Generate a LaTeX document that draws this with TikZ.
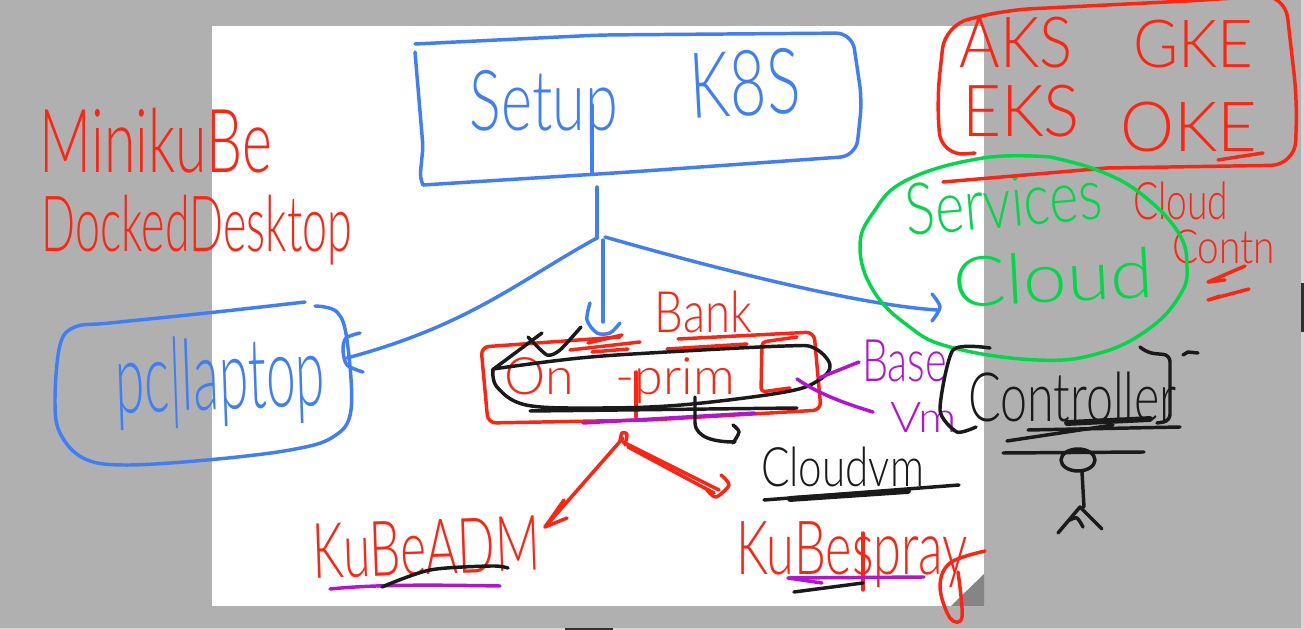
\documentclass[tikz,border=0pt]{standalone}
\usepackage{fontspec}
\usepackage{graphicx}
\setmainfont{Lato Light}
\definecolor{bgray}{HTML}{B0B0B0}
\definecolor{fold}{HTML}{858585}
\definecolor{edgeg}{HTML}{D6D6D6}
\definecolor{inkblue}{HTML}{3F7EF6}
\definecolor{inkred}{HTML}{FF2312}
\definecolor{inkgreen}{HTML}{00D84A}
\definecolor{inkpurple}{HTML}{B414D2}
\definecolor{inkblack}{HTML}{1A1A1A}
\tikzset{
  hand/.style={inner sep=0pt,outer sep=0pt},
  stroke/.style={line width=2.6pt,line cap=round,line join=round},
  blue ink/.style={stroke,draw=inkblue},
  red ink/.style={stroke,draw=inkred},
  green ink/.style={stroke,draw=inkgreen},
  purple ink/.style={stroke,draw=inkpurple},
  black ink/.style={stroke,draw=inkblack},
  fat/.style={line width=4.4pt},
}
% name, colour, x1, y1, x2, y2, rotation, text
\newcommand\hw[8]{%
  \pgfmathsetmacro\hwx{(#3+#5)/2}%
  \pgfmathsetmacro\hwy{(#4+#6)/2}%
  \pgfmathsetmacro\hww{(#5-#3)*0.75}%
  \pgfmathsetmacro\hwh{(#6-#4)*0.75}%
  \node[hand,text=#2,rotate=#7] (#1) at (\hwx,\hwy) {\resizebox*{\hww pt}{\hwh pt}{#8}};%
}
\begin{document}
\begin{tikzpicture}[x=0.75pt,y=-0.75pt]
\useasboundingbox (0,0) rectangle (1304,630);
\clip (0,0) rectangle (1304,630);
% page
\fill[bgray] (0,0) rectangle (1304,630);
\fill[edgeg] (0,628) rectangle (1304,630);
\fill[edgeg] (1301,0) rectangle (1304,630);
\fill[inkblack!90] (565,628) rectangle (613,630);
\fill[inkblack!90] (1301,283) rectangle (1304,332);
\fill[white] (212,26) rectangle (984,606);
\fill[fold] (984,574) -- (984,606) -- (951,606) -- cycle;

% texts
\hw{minikube}{inkred}{40}{108}{272}{173}{0}{MinikuBe}
\hw{docker}{inkred}{42}{195}{352}{265}{0}{DockedDesktop}
\hw{setup}{inkblue}{470}{70}{618}{145}{0}{Setup}
\hw{keights}{inkblue}{690}{50}{800}{116}{3}{K8S}
\hw{pclaptop}{inkblue}{115}{335}{325}{427}{2}{pc|laptop}
\hw{bank}{inkred}{655}{291}{752}{333}{0}{Bank}
\hw{onprim}{inkred}{505}{358}{735}{404}{0}{On\hspace{0.8em}-prim}
\hw{basenode}{inkpurple}{862}{340}{947}{382}{0}{Base}
\hw{vmnode}{inkpurple}{890}{403}{957}{433}{0}{Vm}
\hw{cloudvm}{inkblack}{761}{447}{924}{487}{0}{Cloudvm}
\hw{controller}{inkblack}{968}{372}{1177}{422}{0}{Controller}
\hw{kubeadm}{inkred}{313}{520}{540}{575}{2}{KuBeADM}
\hw{kubespray}{inkred}{736}{522}{968}{588}{0}{KuBespray}
\hw{aks}{inkred}{960}{17}{1073}{68}{0}{AKS}
\hw{gke}{inkred}{1133}{20}{1253}{68}{0}{GKE}
\hw{eks}{inkred}{962}{85}{1080}{137}{0}{EKS}
\hw{oke}{inkred}{1120}{102}{1257}{152}{0}{OKE}
\hw{services}{inkgreen}{905}{176}{1102}{228}{5}{Services}
\hw{cloud}{inkgreen}{953}{252}{1153}{303}{3}{Cloud}
\hw{cloudred}{inkred}{1133}{182}{1228}{220}{0}{Cloud}
\hw{contn}{inkred}{1172}{230}{1275}{264}{0}{Contn}

% Setup box
\draw[blue ink,rounded corners=12pt] (415,44) -- (600,35) -- (852,33) -- (862,100) -- (856,156) -- (630,172) -- (423,185);
\draw[blue ink,rounded corners=4pt] (423,185) -- (420,177) -- (423,147) -- (415,52);
% connector stems
\coordinate (setupfoot) at (592,173);
\coordinate (hub) at (597,238);
\coordinate (pcend) at (347,358);
\coordinate (bankend) at (603,322);
\coordinate (cloudend) at (937,310);
\draw[blue ink] (592,105) -- (setupfoot);
\draw[blue ink] (597,187) -- (hub);
\draw[blue ink] (hub) .. controls (520,280) and (470,325) .. (pcend);
\draw[blue ink] (603,240) -- (bankend);
\draw[blue ink] (605,237) .. controls (720,270) and (860,305) .. (cloudend);
% hooks
\draw[blue ink] plot[smooth] coordinates {(590,303) (587,320) (597,333) (610,333) (620,323)};
\draw[blue ink] plot[smooth] coordinates {(932,294) (940,307) (932,321)};
\draw[blue ink] plot[smooth] coordinates {(360,333) (346,338) (343,350) (347,365) (363,372)};
% pc box
\draw[blue ink] plot[smooth,tension=0.6] coordinates {(305,302) (207,313) (110,323) (75,327) (60,345) (55,400) (60,433) (83,458) (123,465) (207,460) (290,450) (333,437) (351,410) (347,340) (337,312) (315,306)};

% red on-prem box
\draw[red ink,rounded corners=6pt] (620,337) -- (481,347) -- (488,423) -- (650,420) -- (821,410) -- (814,332) -- (678,339);
\draw[red ink] (667,349) -- (747,344);
\draw[red ink] (570,350) -- (640,342);
\draw[red ink] (588,343) -- (622,335);
\draw[red ink] (592,352) -- (628,349);
\draw[red ink,rounded corners=3pt] (797,337) -- (762,342) -- (761,392) -- (790,388);
\draw[red ink] (636,372) -- (636,417);
% black loop
\draw[black ink] plot[smooth,tension=0.6] coordinates {(493,369) (580,358) (667,352) (785,346) (814,348) (830,365) (819,380) (785,392) (681,405) (595,408) (526,405) (497,387) (493,369)};
\draw[black ink] (542,333) -- (495,368);
\draw[black ink] plot[smooth,tension=0.4] coordinates {(528,337) (547,355) (560,350) (581,327)};
\draw[black ink] (530,411) -- (797,408);
\draw[purple ink] (583,423) -- (755,413);
% Cloud vm arrow
\coordinate (vmstart) at (695,397);
\coordinate (vmend) at (735,442);
\draw[black ink] (vmstart) -- (695,423) .. controls (696,438) and (715,442) .. (vmend);
\draw[black ink] plot[smooth] coordinates {(733,425) (739,432) (733,443)};
\draw[black ink] (764,500) -- (959,485);
\draw[black ink,fat] (790,499) -- (908,491);
% purple links
\coordinate (baseend) at (859,362);
\coordinate (vmlink) at (873,412);
\draw[purple ink] (baseend) -- (819,378);
\draw[purple ink] (797,379) .. controls (820,395) and (850,405) .. (vmlink);
% red arrows
\coordinate (splitr) at (623,438);
\coordinate (admend) at (545,527);
\coordinate (sprayend) at (719,490);
\draw[red ink] plot[smooth] coordinates {(620,441) (622,433) (627,434) (625,445)};
\draw[red ink] (splitr) -- (admend);
\draw[red ink] (564,500) -- (545,527) -- (567,518);
\draw[red ink] (623,442) -- (sprayend);
\draw[red ink] (628,447) -- (714,493);
\draw[red ink] plot[smooth] coordinates {(721,475) (729,485) (716,497) (707,490)};
% kube underlines
\draw[purple ink] (330,589) .. controls (380,584) and (440,585) .. (500,586);
\draw[black ink] plot[smooth] coordinates {(382,587) (430,570) (491,566) (508,568)};
\draw[red ink] (863,533) -- (863,590);
\draw[purple ink] (788,578) -- (924,577);
\draw[purple ink] (788,578) -- (822,583);
\draw[black ink] (794,592) -- (863,583);
% y tail
\draw[red ink] plot[smooth,tension=0.6] coordinates {(958,572) (962,617) (950,618) (940,587) (950,563) (985,551)};

% AKS box
\draw[red ink,rounded corners=18pt] (975,153) -- (941,156) -- (937,100) -- (945,25) -- (1007,10) -- (1207,0) -- (1285,-6) -- (1297,100) -- (1295,165) -- (1107,168);
\draw[red ink] (1107,168) -- (943,182);
\draw[red ink] (1218,160) -- (1263,153);
% green
\draw[green ink] plot[smooth,tension=0.7] coordinates {(1050,157) (983,158) (907,180) (873,213) (860,247) (873,290) (907,325) (950,347) (1037,360) (1100,353) (1150,328) (1180,295) (1187,267) (1178,232) (1140,193) (1097,170) (1050,157)};
% red underlines
\draw[red ink] (1245,266) -- (1208,282) -- (1225,280);
\draw[red ink] (1249,289) -- (1208,300) -- (1220,296);

% controller
\draw[black ink] plot[smooth,tension=0.4] coordinates {(990,348) (953,350) (940,410) (957,432) (976,427)};
\draw[black ink,rounded corners=5pt] (1140,347) -- (1148,353) -- (1170,355) -- (1170,421) -- (1157,423);
\draw[black ink] (1183,355) -- (1188,352) -- (1198,353);
\draw[black ink] (1028,430) -- (1180,427);
\draw[black ink] (1007,441) -- (1113,425);
\draw[black ink,fat] (1067,423) -- (1150,419);
\draw[black ink] (1003,453) -- (1144,452);
\draw[black ink] (1078,460) ellipse (17 and 11);
\draw[black ink] (1082,472) -- (1084,507);
\draw[black ink] (1058,533) -- (1080,507) -- (1102,529);
\draw[black ink] plot[smooth] coordinates {(1070,520) (1077,518) (1083,527)};
\end{tikzpicture}
\end{document}
